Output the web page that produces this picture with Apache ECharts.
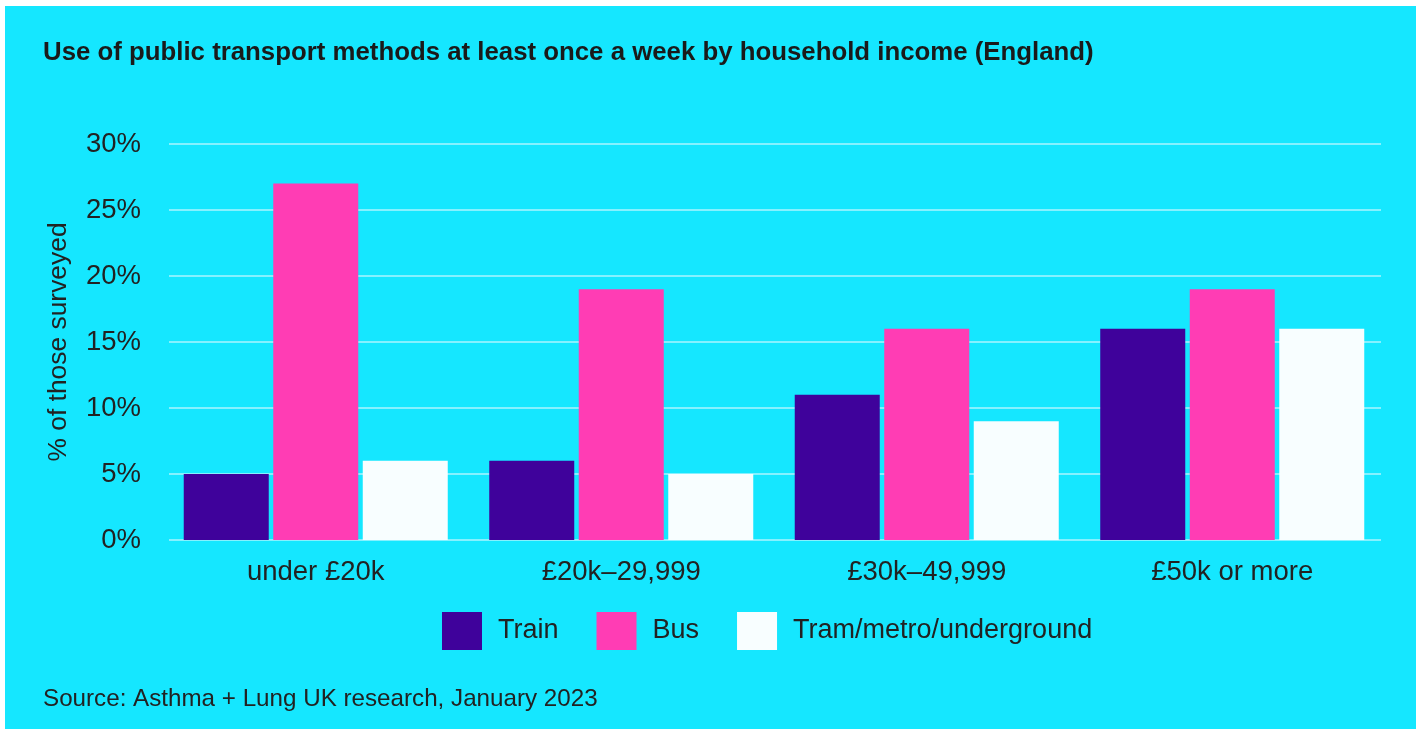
<!DOCTYPE html>
<html>
<head>
<meta charset="utf-8">
<script src="https://cdn.jsdelivr.net/npm/echarts@6/dist/echarts.min.js"></script>
<style>
html,body{margin:0;padding:0;background:#ffffff;width:1416px;height:729px;overflow:hidden;}
#chart{position:absolute;left:5px;top:6px;width:1411px;height:723px;}
</style>
</head>
<body>
<div id="chart"></div>
<script>
const categories = ['under £20k', '£20k–29,999', '£30k–49,999', '£50k or more'];
const train = [5, 6, 11, 16];
const bus = [27, 19, 16, 19];
const tram = [6, 5, 9, 16];
const seriesNames = ['Train', 'Bus', 'Tram/metro/underground'];
const titleText = 'Use of public transport methods at least once a week by household income (England)';
const sourceText = 'Source: Asthma + Lung UK research, January 2023';
const yAxisName = '% of those surveyed';

const FONT = 'Liberation Sans';
const TEXT = '#222222';
const chart = echarts.init(document.getElementById('chart'));
chart.setOption({
  backgroundColor: '#15E7FF',
  animation: false,
  title: [
    { text: titleText, left: 38, top: 34, padding: 0,
      textStyle: { fontFamily: FONT, fontWeight: 'bold', fontSize: 25.8, color: '#1a1a1a' } },
    { text: sourceText, left: 38, top: 681, padding: 0,
      textStyle: { fontFamily: FONT, fontWeight: 'normal', fontSize: 24.2, color: TEXT } }
  ],
  legend: {
    left: 437, top: 606, padding: 0,
    itemWidth: 40, itemHeight: 38, itemGap: 38,
    icon: 'rect',
    data: seriesNames,
    textStyle: { fontFamily: FONT, fontSize: 27, color: TEXT, padding: [2, 0, 0, 11] }
  },
  grid: [
    { left: 164, right: 35, top: 138, bottom: 189, containLabel: false },
    { left: 158, right: 31, top: 138, bottom: 189, containLabel: false }
  ],
  xAxis: [
    { type: 'value', gridIndex: 0, show: false, min: 0, max: 1 },
    { type: 'category', gridIndex: 1, data: categories,
      axisLine: { show: false }, axisTick: { show: false },
      axisLabel: { fontFamily: FONT, fontSize: 27.5, color: TEXT, margin: 18 } }
  ],
  yAxis: [
    { type: 'value', gridIndex: 0, min: 0, max: 30, interval: 5,
      name: yAxisName, nameLocation: 'middle', nameRotate: 90, nameGap: 97,
      nameTextStyle: { fontFamily: FONT, fontSize: 26.4, color: TEXT },
      axisLine: { show: false }, axisTick: { show: false },
      axisLabel: { fontFamily: FONT, fontSize: 27.5, color: TEXT, margin: 28, formatter: '{value}%' },
      splitLine: { lineStyle: { color: '#85F1FF', width: 2 } } },
    { type: 'value', gridIndex: 1, min: 0, max: 30, interval: 5, show: false,
      splitLine: { show: false } }
  ],
  series: [
    { name: seriesNames[0], type: 'bar', xAxisIndex: 1, yAxisIndex: 1, data: train, barWidth: 85, barGap: '5.3%', itemStyle: { color: '#3F029B' } },
    { name: seriesNames[1], type: 'bar', xAxisIndex: 1, yAxisIndex: 1, data: bus, barWidth: 85, barGap: '5.3%', itemStyle: { color: '#FF3DB4' } },
    { name: seriesNames[2], type: 'bar', xAxisIndex: 1, yAxisIndex: 1, data: tram, barWidth: 85, barGap: '5.3%', itemStyle: { color: '#F8FEFF' } }
  ]
});
</script>
</body>
</html>
